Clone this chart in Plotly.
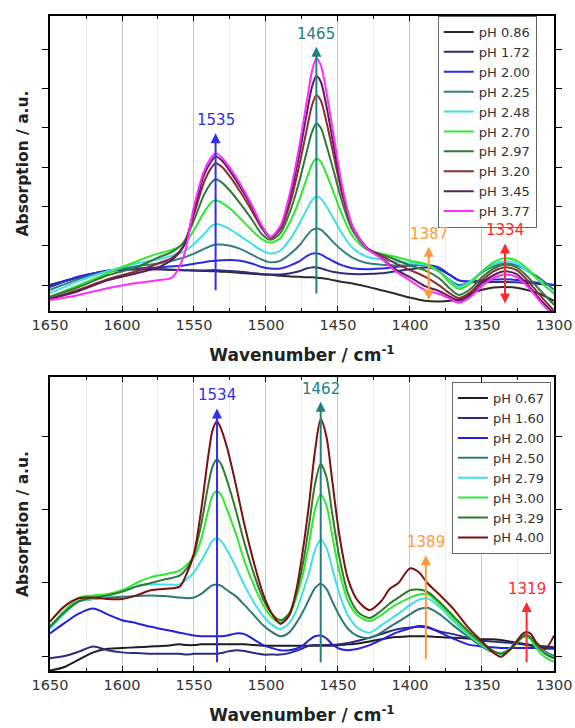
import plotly.graph_objects as go

# ---------------- upper panel: spectra at pH 0.86 ... 3.77 ----------------
top_wn = [1650, 1630, 1610, 1590, 1575, 1565, 1557, 1550, 1543, 1538, 1535, 1531, 1525, 1518,
          1510, 1503, 1497, 1490, 1483, 1477, 1472, 1468, 1465, 1462, 1458, 1453, 1447, 1440,
          1430, 1420, 1410, 1400, 1390, 1380, 1372, 1366, 1358, 1350, 1342, 1334, 1326, 1318,
          1310, 1300]
top_labels = ["pH 0.86", "pH 1.72", "pH 2.00", "pH 2.25", "pH 2.48",
              "pH 2.70", "pH 2.97", "pH 3.20", "pH 3.45", "pH 3.77"]

top_086 = [0.0, 0.02, 0.035, 0.04, 0.04, 0.039, 0.038, 0.037, 0.036, 0.035, 0.035, 0.034, 0.033, 0.031,
           0.029, 0.027, 0.026, 0.024, 0.022, 0.021, 0.02, 0.02, 0.019, 0.018, 0.016, 0.012, 0.008, 0.004,
           -0.004, -0.013, -0.022, -0.032, -0.04, -0.042, -0.04, -0.036, -0.022, -0.012, -0.006, -0.005, -0.007, -0.013,
           -0.022, -0.04]
top_172 = [0.0, 0.02, 0.037, 0.04, 0.04, 0.039, 0.038, 0.037, 0.037, 0.038, 0.038, 0.037, 0.036, 0.034,
           0.031, 0.028, 0.027, 0.027, 0.03, 0.035, 0.042, 0.045, 0.045, 0.043, 0.038, 0.033, 0.03, 0.028,
           0.028, 0.03, 0.035, 0.04, 0.045, 0.04, 0.025, 0.012, 0.008, 0.008, 0.008, 0.008, 0.007, 0.005,
           0.003, 0.0]
top_200 = [-0.005, 0.022, 0.035, 0.042, 0.045, 0.048, 0.05, 0.054, 0.058, 0.061, 0.062, 0.063, 0.064, 0.062,
           0.055, 0.046, 0.042, 0.042, 0.05, 0.06, 0.073, 0.08, 0.081, 0.078, 0.07, 0.06, 0.05, 0.043,
           0.04, 0.042, 0.046, 0.05, 0.052, 0.045, 0.025, 0.012, 0.01, 0.012, 0.014, 0.015, 0.013, 0.01,
           0.005, 0.0]
top_225 = [-0.012, 0.015, 0.035, 0.048, 0.055, 0.062, 0.07, 0.08, 0.092, 0.1, 0.103, 0.103, 0.1, 0.092,
           0.078, 0.065, 0.058, 0.062, 0.08, 0.1, 0.124, 0.14, 0.144, 0.141, 0.128, 0.108, 0.088, 0.07,
           0.056, 0.052, 0.05, 0.05, 0.05, 0.035, 0.012, 0.0, 0.01, 0.032, 0.048, 0.055, 0.05, 0.035,
           0.018, -0.012]
top_248 = [-0.02, 0.01, 0.035, 0.055, 0.065, 0.075, 0.085, 0.105, 0.13, 0.15, 0.155, 0.152, 0.142, 0.125,
           0.105, 0.088, 0.08, 0.088, 0.118, 0.155, 0.19, 0.216, 0.225, 0.22, 0.2, 0.168, 0.13, 0.095,
           0.072, 0.065, 0.06, 0.056, 0.052, 0.035, 0.01, -0.005, 0.01, 0.035, 0.053, 0.06, 0.055, 0.035,
           0.01, -0.02]
top_270 = [-0.03, 0.0, 0.03, 0.06, 0.08, 0.09, 0.105, 0.14, 0.185, 0.21, 0.216, 0.21, 0.195, 0.17,
           0.14, 0.117, 0.108, 0.12, 0.163, 0.215, 0.268, 0.308, 0.322, 0.314, 0.282, 0.235, 0.178, 0.125,
           0.09, 0.08, 0.072, 0.062, 0.055, 0.035, 0.005, -0.01, 0.005, 0.035, 0.058, 0.068, 0.062, 0.04,
           0.01, -0.022]
top_297 = [-0.03, -0.005, 0.025, 0.045, 0.07, 0.085, 0.11, 0.165, 0.23, 0.26, 0.269, 0.262, 0.24, 0.208,
           0.168, 0.13, 0.115, 0.132, 0.19, 0.262, 0.335, 0.39, 0.411, 0.4, 0.355, 0.29, 0.21, 0.14,
           0.093, 0.078, 0.065, 0.05, 0.038, 0.018, -0.01, -0.025, -0.01, 0.02, 0.042, 0.052, 0.045, 0.02,
           -0.012, -0.05]
top_320 = [-0.035, -0.012, 0.015, 0.035, 0.055, 0.07, 0.1, 0.18, 0.262, 0.298, 0.31, 0.302, 0.276, 0.238,
           0.19, 0.145, 0.12, 0.142, 0.212, 0.303, 0.39, 0.458, 0.483, 0.47, 0.415, 0.33, 0.23, 0.148,
           0.095, 0.075, 0.055, 0.038, 0.022, 0.0, -0.022, -0.033, -0.018, 0.012, 0.035, 0.045, 0.038, 0.01,
           -0.025, -0.065]
top_345 = [-0.035, -0.015, 0.012, 0.03, 0.045, 0.065, 0.1, 0.19, 0.28, 0.315, 0.327, 0.318, 0.29, 0.25,
           0.2, 0.15, 0.122, 0.148, 0.228, 0.33, 0.43, 0.505, 0.532, 0.518, 0.455, 0.355, 0.24, 0.15,
           0.095, 0.07, 0.04, 0.02, -0.002, -0.015, -0.03, -0.04, -0.025, 0.005, 0.025, 0.035, 0.028, 0.0,
           -0.035, -0.072]
top_377 = [-0.038, -0.025, -0.008, 0.005, 0.012, 0.02, 0.075, 0.2, 0.29, 0.325, 0.335, 0.326, 0.298, 0.258,
           0.205, 0.152, 0.122, 0.15, 0.24, 0.35, 0.46, 0.545, 0.577, 0.56, 0.49, 0.38, 0.25, 0.15,
           0.093, 0.068, 0.035, 0.012, -0.012, -0.022, -0.035, -0.045, -0.03, -0.002, 0.018, 0.027, 0.02, -0.005,
           -0.04, -0.08]
top_series = [top_086, top_172, top_200, top_225, top_248, top_270, top_297, top_320, top_345, top_377]
top_colors = ["#2b2b2b", "#2e2e7a", "#2a2ae0", "#337f7f", "#3fdfe8",
              "#2ee82e", "#2f7a3a", "#8a2e2e", "#5a1f5a", "#ff2bff"]

# marked bands in the upper panel
top_bands = [1535, 1465, 1387, 1334]
top_band_colors = ["#2f2ff0", "#228080", "#ff9a3c", "#ff2a2a"]
top_band_tip = [0.386, 0.606, 0.0975, 0.106]
top_band_tail = [-0.017, -0.025, -0.042, -0.051]
top_band_double = [False, False, True, True]

# ---------------- lower panel: spectra at pH 0.67 ... 4.00 ----------------
bot_wn = [1650, 1640, 1630, 1620, 1610, 1600, 1590, 1580, 1570, 1560, 1555, 1550, 1545, 1540,
          1537, 1534, 1531, 1527, 1521, 1515, 1508, 1502, 1496, 1490, 1484, 1479, 1474, 1470,
          1466, 1462, 1458, 1454, 1449, 1443, 1436, 1428, 1420, 1414, 1408, 1400, 1394, 1388,
          1380, 1370, 1360, 1350, 1343, 1337, 1331, 1326, 1322, 1319, 1316, 1312, 1306, 1300]
bot_labels = ["pH 0.67", "pH 1.60", "pH 2.00", "pH 2.50",
              "pH 2.79", "pH 3.00", "pH 3.29", "pH 4.00"]

bot_067 = [-0.02, -0.015, -0.005, 0.005, 0.01, 0.011, 0.012, 0.013, 0.014, 0.016, 0.015, 0.015, 0.016, 0.016,
           0.016, 0.016, 0.016, 0.016, 0.016, 0.016, 0.015, 0.014, 0.014, 0.014, 0.014, 0.014, 0.014, 0.014,
           0.014, 0.014, 0.014, 0.014, 0.015, 0.016, 0.017, 0.02, 0.023, 0.025, 0.026, 0.027, 0.027, 0.027,
           0.026, 0.025, 0.024, 0.023, 0.023, 0.022, 0.02, 0.018, 0.017, 0.016, 0.015, 0.014, 0.013, 0.012]
bot_160 = [-0.003, 0.0, 0.006, 0.013, 0.008, 0.005, 0.004, 0.003, 0.003, 0.003, 0.002, 0.003, 0.003, 0.003,
           0.003, 0.003, 0.004, 0.006, 0.008, 0.007, 0.004, 0.002, 0.002, 0.002, 0.004, 0.007, 0.011, 0.014,
           0.015, 0.015, 0.015, 0.015, 0.016, 0.018, 0.021, 0.025, 0.03, 0.034, 0.037, 0.039, 0.04, 0.039,
           0.034, 0.03, 0.025, 0.021, 0.02, 0.019, 0.018, 0.017, 0.016, 0.015, 0.014, 0.013, 0.012, 0.011]
bot_200 = [0.031, 0.045, 0.058, 0.065, 0.057, 0.049, 0.045, 0.04, 0.036, 0.032, 0.03, 0.028, 0.027, 0.027,
           0.027, 0.027, 0.027, 0.028, 0.031, 0.03, 0.022, 0.015, 0.011, 0.008, 0.008, 0.01, 0.015, 0.022,
           0.027, 0.028, 0.024, 0.016, 0.01, 0.008, 0.01, 0.015, 0.022, 0.028, 0.033, 0.038, 0.041, 0.04,
           0.033, 0.024, 0.016, 0.013, 0.012, 0.011, 0.011, 0.011, 0.011, 0.011, 0.011, 0.011, 0.01, 0.01]
bot_250 = [0.04, 0.06, 0.075, 0.078, 0.08, 0.081, 0.082, 0.083, 0.082, 0.08, 0.079, 0.08, 0.085, 0.093,
           0.097, 0.098, 0.096, 0.09, 0.082, 0.07, 0.055, 0.042, 0.033, 0.027, 0.032, 0.045, 0.062, 0.078,
           0.093, 0.099, 0.092, 0.075, 0.055, 0.037, 0.027, 0.025, 0.032, 0.04, 0.047, 0.057, 0.064, 0.066,
           0.058, 0.042, 0.027, 0.013, 0.006, 0.004, 0.01, 0.02, 0.027, 0.029, 0.025, 0.015, 0.006, 0.0]
bot_279 = [0.037, 0.058, 0.075, 0.078, 0.082, 0.09, 0.096, 0.098, 0.098, 0.098, 0.105, 0.115, 0.13, 0.148,
           0.158, 0.161, 0.157, 0.145, 0.122, 0.097, 0.072, 0.055, 0.043, 0.037, 0.045, 0.062, 0.09, 0.115,
           0.145, 0.159, 0.148, 0.12, 0.085, 0.055, 0.038, 0.032, 0.042, 0.05, 0.058, 0.07, 0.077, 0.079,
           0.068, 0.048, 0.03, 0.015, 0.007, 0.004, 0.01, 0.02, 0.026, 0.028, 0.024, 0.014, 0.004, -0.002]
bot_300 = [0.04, 0.062, 0.08, 0.083, 0.085, 0.09, 0.1, 0.108, 0.112, 0.117, 0.125, 0.135, 0.16, 0.2,
           0.22, 0.226, 0.22, 0.2, 0.168, 0.13, 0.095, 0.07, 0.053, 0.046, 0.055, 0.08, 0.115, 0.155,
           0.2, 0.221, 0.206, 0.165, 0.115, 0.075, 0.055, 0.048, 0.056, 0.065, 0.072, 0.08, 0.084, 0.085,
           0.072, 0.052, 0.032, 0.016, 0.007, 0.003, 0.008, 0.018, 0.025, 0.027, 0.022, 0.01, -0.002, -0.008]
bot_329 = [0.04, 0.06, 0.075, 0.08, 0.083, 0.088, 0.095, 0.1, 0.105, 0.11, 0.12, 0.14, 0.18, 0.235,
           0.26, 0.269, 0.262, 0.24, 0.2, 0.155, 0.11, 0.078, 0.058, 0.049, 0.058, 0.085, 0.13, 0.18,
           0.235, 0.263, 0.245, 0.195, 0.135, 0.085, 0.06, 0.052, 0.062, 0.072, 0.08, 0.09, 0.091, 0.088,
           0.075, 0.055, 0.035, 0.018, 0.008, 0.003, 0.008, 0.018, 0.026, 0.028, 0.025, 0.015, 0.003, -0.003]
bot_400 = [0.047, 0.068, 0.079, 0.08, 0.078, 0.078, 0.083, 0.09, 0.092, 0.095, 0.113, 0.14, 0.2, 0.275,
           0.31, 0.321, 0.31, 0.285, 0.235, 0.18, 0.125, 0.085, 0.058, 0.044, 0.055, 0.09, 0.15, 0.21,
           0.28, 0.324, 0.3, 0.24, 0.165, 0.105, 0.075, 0.063, 0.075, 0.092, 0.1, 0.12, 0.115, 0.1,
           0.085, 0.065, 0.04, 0.02, 0.006, -0.001, 0.008, 0.02, 0.03, 0.033, 0.03, 0.018, 0.01, 0.028]
bot_series = [bot_067, bot_160, bot_200, bot_250, bot_279, bot_300, bot_329, bot_400]
bot_colors = ["#1e1e1e", "#2b2b80", "#2222dd", "#2f7878",
              "#40dfe8", "#30e830", "#2f7a2f", "#7a1010"]

# marked bands in the lower panel
bot_bands = [1534, 1462, 1389, 1319]
bot_band_colors = ["#2f2ff0", "#228080", "#ff9a3c", "#ff2a2a"]
bot_band_tip = [0.339, 0.348, 0.138, 0.074]
bot_band_tail = [-0.0105, -0.0105, -0.006, -0.0105]

FONT = "DejaVu Sans"

fig = go.Figure()

for name, vals, col in zip(top_labels, top_series, top_colors):
    fig.add_trace(go.Scatter(x=top_wn, y=vals, name=name, mode="lines",
                             line=dict(color=col, width=2, shape="spline", smoothing=0.8),
                             xaxis="x", yaxis="y", legend="legend"))

for name, vals, col in zip(bot_labels, bot_series, bot_colors):
    fig.add_trace(go.Scatter(x=bot_wn, y=vals, name=name, mode="lines",
                             line=dict(color=col, width=2, shape="spline", smoothing=0.8),
                             xaxis="x2", yaxis="y2", legend="legend2"))

annotations = []


def band_marks(bands, colors, tips, tails, xr, yr, doubles=None):
    for i, (wn, col, tip, tail) in enumerate(zip(bands, colors, tips, tails)):
        both = bool(doubles[i]) if doubles else False
        arrow = dict(x=wn, y=tip, ax=wn, ay=tail, xref=xr, yref=yr, axref=xr, ayref=yr,
                     text="", showarrow=True, arrowhead=2, arrowsize=1, arrowwidth=2,
                     arrowcolor=col)
        if both:
            arrow.update(arrowside="end+start", startarrowhead=2, startarrowsize=1)
        annotations.append(arrow)
        annotations.append(dict(x=wn, y=tip, xref=xr, yref=yr, text=str(wn), showarrow=False,
                                yanchor="bottom", yshift=2,
                                font=dict(family=FONT, size=15, color=col)))


band_marks(top_bands, top_band_colors, top_band_tip, top_band_tail, "x", "y", top_band_double)
band_marks(bot_bands, bot_band_colors, bot_band_tip, bot_band_tail, "x2", "y2")


def x_axis(anchor, domain):
    return dict(domain=domain, anchor=anchor, range=[1650, 1300], automargin=False,
                tickmode="linear", tick0=1300, dtick=50,
                ticks="inside", ticklen=5, tickwidth=1.2, tickcolor="black",
                minor=dict(tickmode="linear", tick0=1300, dtick=25, ticks="inside", ticklen=3,
                           tickcolor="black", showgrid=True, gridcolor="#ececec", gridwidth=1),
                showgrid=True, gridcolor="#c8c8c8", gridwidth=1,
                showline=True, linecolor="black", linewidth=1.5, mirror="allticks",
                zeroline=False,
                tickfont=dict(family=FONT, size=14.5, color="#333333"),
                title=dict(text="Wavenumber / cm<sup>-1</sup>", standoff=17,
                           font=dict(family=FONT, size=17, color="#222222", weight="bold")))


def y_axis(anchor, domain, rng):
    return dict(domain=domain, anchor=anchor, range=rng, automargin=False,
                tickmode="linear", tick0=0, dtick=0.1,
                ticks="outside", ticklen=6, tickwidth=1.2, tickcolor="black",
                showticklabels=False, showgrid=False, zeroline=False,
                showline=True, linecolor="black", linewidth=1.5, mirror="ticks",
                title=dict(text="Absorption / a.u.", standoff=10,
                           font=dict(family=FONT, size=15.5, color="#222222", weight="bold")))


legend_style = dict(bgcolor="white", bordercolor="#666666", borderwidth=1,
                    font=dict(family=FONT, size=13, color="#333333"),
                    xanchor="right", yanchor="top", tracegroupgap=0)

fig.update_layout(
    width=575, height=728,
    margin=dict(l=50, r=19, t=16, b=57, autoexpand=False),
    paper_bgcolor="white", plot_bgcolor="white",
    showlegend=True,
    xaxis=x_axis("y", [0, 0.996]),
    yaxis=y_axis("x", [0.5496, 1], [-0.066, 0.6845]),
    xaxis2=x_axis("y2", [0, 0.996]),
    yaxis2=y_axis("x2", [0, 0.4489], [-0.0205, 0.382]),
    legend=dict(x=0.962, y=1.0, **legend_style),
    legend2=dict(x=0.990, y=0.441, **legend_style),
    annotations=annotations,
)

fig.write_html("out.html")
